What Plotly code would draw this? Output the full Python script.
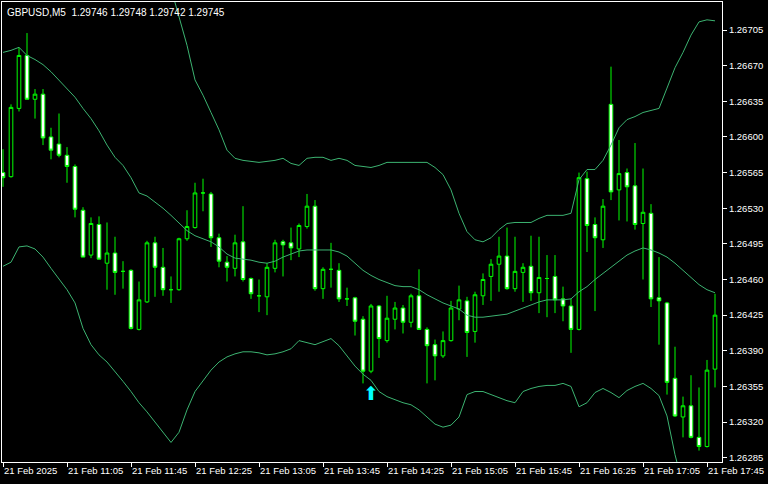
""" GBPUSD M5 candles with Bollinger Bands, MT4 style
"""

import plotly.graph_objects as go

symbol_text = "GBPUSD,M5  1.29746 1.29748 1.29742 1.29745"

# one entry per 5-minute bar, 10:25 .. 17:50
opens = [1.26565, 1.26561, 1.26628, 1.26680, 1.26637, 1.26642, 1.26600, 1.26593, 1.26582, 1.26571,
         1.26528, 1.26484, 1.26514, 1.26476, 1.26486, 1.26468, 1.26469, 1.26411, 1.26438, 1.26496,
         1.26472, 1.26450, 1.26450, 1.26500, 1.26511, 1.26545, 1.26544, 1.26501, 1.26477, 1.26471,
         1.26497, 1.26461, 1.26444, 1.26443, 1.26471, 1.26497, 1.26496, 1.26490, 1.26512, 1.26532,
         1.26451, 1.26470, 1.26469, 1.26441, 1.26442, 1.26421, 1.26370, 1.26434, 1.26400, 1.26421,
         1.26432, 1.26418, 1.26444, 1.26411, 1.26396, 1.26385, 1.26400, 1.26431, 1.26439, 1.26409,
         1.26444, 1.26463, 1.26475, 1.26483, 1.26451, 1.26467, 1.26473, 1.26447, 1.26461, 1.26463,
         1.26441, 1.26434, 1.26411, 1.26559, 1.26514, 1.26499, 1.26632, 1.26548, 1.26565, 1.26552,
         1.26515, 1.26525, 1.26442, 1.26437, 1.26363, 1.26325, 1.26336, 1.26305, 1.26296, 1.26372]
highs = [1.26588, 1.26632, 1.26688, 1.26702, 1.26647, 1.26647, 1.26609, 1.26623, 1.26590, 1.26573,
         1.26531, 1.26521, 1.26522, 1.26516, 1.26502, 1.26478, 1.26470, 1.26458, 1.26498, 1.26502,
         1.26491, 1.26463, 1.26501, 1.26528, 1.26555, 1.26559, 1.26546, 1.26505, 1.26483, 1.26504,
         1.26532, 1.26462, 1.26460, 1.26476, 1.26499, 1.26499, 1.26511, 1.26515, 1.26544, 1.26538,
         1.26472, 1.26496, 1.26476, 1.26452, 1.26443, 1.26424, 1.26436, 1.26435, 1.26444, 1.26438,
         1.26435, 1.26446, 1.26470, 1.26413, 1.26401, 1.26409, 1.26439, 1.26454, 1.26443, 1.26448,
         1.26466, 1.26480, 1.26502, 1.26511, 1.26502, 1.26476, 1.26503, 1.26502, 1.26484, 1.26484,
         1.26453, 1.26441, 1.26565, 1.26566, 1.26521, 1.26539, 1.26669, 1.26597, 1.26569, 1.26594,
         1.26569, 1.26534, 1.26482, 1.26438, 1.26394, 1.26345, 1.26366, 1.26354, 1.26381, 1.26446]
lows = [1.26551, 1.26560, 1.26625, 1.26637, 1.26618, 1.26592, 1.26578, 1.26580, 1.26555, 1.26521,
        1.26482, 1.26481, 1.26480, 1.26450, 1.26445, 1.26451, 1.26411, 1.26410, 1.26437, 1.26443,
        1.26444, 1.26437, 1.26449, 1.26498, 1.26510, 1.26527, 1.26492, 1.26472, 1.26458, 1.26463,
        1.26458, 1.26441, 1.26428, 1.26425, 1.26467, 1.26463, 1.26479, 1.26482, 1.26510, 1.26449,
        1.26441, 1.26452, 1.26438, 1.26434, 1.26405, 1.26358, 1.26368, 1.26383, 1.26398, 1.26411,
        1.26407, 1.26413, 1.26411, 1.26358, 1.26361, 1.26383, 1.26399, 1.26420, 1.26384, 1.26398,
        1.26435, 1.26439, 1.26448, 1.26450, 1.26448, 1.26438, 1.26439, 1.26427, 1.26423, 1.26427,
        1.26419, 1.26388, 1.26410, 1.26487, 1.26429, 1.26491, 1.26538, 1.26518, 1.26517, 1.26509,
        1.26460, 1.26433, 1.26396, 1.26347, 1.26325, 1.26305, 1.26304, 1.26292, 1.26295, 1.26354]
closes = [1.26560, 1.26629, 1.26680, 1.26637, 1.26642, 1.26599, 1.26587, 1.26582, 1.26571, 1.26529,
          1.26482, 1.26515, 1.26480, 1.26486, 1.26467, 1.26468, 1.26412, 1.26440, 1.26496, 1.26472,
          1.26450, 1.26450, 1.26500, 1.26512, 1.26545, 1.26545, 1.26501, 1.26478, 1.26472, 1.26496,
          1.26460, 1.26446, 1.26444, 1.26472, 1.26496, 1.26494, 1.26491, 1.26513, 1.26532, 1.26451,
          1.26470, 1.26470, 1.26441, 1.26441, 1.26419, 1.26370, 1.26434, 1.26402, 1.26422, 1.26432,
          1.26418, 1.26444, 1.26411, 1.26395, 1.26385, 1.26400, 1.26432, 1.26440, 1.26408, 1.26445,
          1.26460, 1.26475, 1.26483, 1.26451, 1.26468, 1.26472, 1.26447, 1.26462, 1.26461, 1.26440,
          1.26434, 1.26411, 1.26560, 1.26513, 1.26501, 1.26532, 1.26546, 1.26564, 1.26551, 1.26514,
          1.26526, 1.26441, 1.26439, 1.26359, 1.26326, 1.26336, 1.26305, 1.26296, 1.26371, 1.26425]

bb_upper = [1.26892, 1.26892, 1.26883, 1.26868, 1.26861, 1.26859, 1.26856, 1.26851, 1.26846, 1.26841,
            1.26844, 1.26840, 1.26826, 1.26805, 1.26791, 1.26786, 1.26770, 1.26751, 1.26754, 1.26752,
            1.26751, 1.26746, 1.26718, 1.26690, 1.26656, 1.26641, 1.26624, 1.26607, 1.26587, 1.26579,
            1.26577, 1.26576, 1.26575, 1.26576, 1.26577, 1.26579, 1.26574, 1.26572, 1.26579, 1.26580,
            1.26580, 1.26577, 1.26579, 1.26577, 1.26572, 1.26571, 1.26570, 1.26572, 1.26575, 1.26575,
            1.26575, 1.26575, 1.26575, 1.26575, 1.26570, 1.26563, 1.26548, 1.26525, 1.26507, 1.26499,
            1.26497, 1.26501, 1.26509, 1.26515, 1.26516, 1.26516, 1.26516, 1.26520, 1.26523, 1.26523,
            1.26523, 1.26525, 1.26558, 1.26568, 1.26568, 1.26577, 1.26592, 1.26609, 1.26617, 1.26620,
            1.26624, 1.26626, 1.26628, 1.26648, 1.26668, 1.26683, 1.26700, 1.26713, 1.26715, 1.26714]
bb_middle = [1.26683, 1.26685, 1.26688, 1.26680, 1.26676, 1.26671, 1.26664, 1.26656, 1.26648, 1.26639,
             1.26628, 1.26618, 1.26606, 1.26592, 1.26580, 1.26572, 1.26560, 1.26545, 1.26542, 1.26536,
             1.26530, 1.26523, 1.26515, 1.26508, 1.26503, 1.26500, 1.26497, 1.26492, 1.26485, 1.26481,
             1.26480, 1.26479, 1.26477, 1.26476, 1.26478, 1.26482, 1.26485, 1.26488, 1.26489, 1.26489,
             1.26489, 1.26489, 1.26487, 1.26483, 1.26476, 1.26469, 1.26464, 1.26460, 1.26457, 1.26454,
             1.26453, 1.26453, 1.26450, 1.26445, 1.26441, 1.26437, 1.26434, 1.26431, 1.26425, 1.26423,
             1.26423, 1.26424, 1.26425, 1.26426, 1.26429, 1.26432, 1.26435, 1.26438, 1.26440, 1.26440,
             1.26440, 1.26441, 1.26448, 1.26453, 1.26460, 1.26466, 1.26472, 1.26478, 1.26484, 1.26488,
             1.26491, 1.26489, 1.26486, 1.26482, 1.26476, 1.26469, 1.26462, 1.26455, 1.26450, 1.26447]
bb_lower = [1.26473, 1.26477, 1.26492, 1.26493, 1.26490, 1.26482, 1.26471, 1.26460, 1.26450, 1.26437,
            1.26412, 1.26396, 1.26386, 1.26379, 1.26370, 1.26360, 1.26350, 1.26339, 1.26330, 1.26320,
            1.26309, 1.26300, 1.26310, 1.26332, 1.26350, 1.26360, 1.26371, 1.26379, 1.26384, 1.26387,
            1.26389, 1.26389, 1.26388, 1.26386, 1.26387, 1.26389, 1.26392, 1.26400, 1.26398, 1.26396,
            1.26399, 1.26402, 1.26395, 1.26385, 1.26375, 1.26367, 1.26361, 1.26350, 1.26345, 1.26342,
            1.26339, 1.26337, 1.26332, 1.26325, 1.26318, 1.26315, 1.26317, 1.26325, 1.26347, 1.26350,
            1.26350, 1.26347, 1.26344, 1.26341, 1.26339, 1.26350, 1.26353, 1.26355, 1.26356, 1.26356,
            1.26358, 1.26355, 1.26335, 1.26339, 1.26349, 1.26353, 1.26349, 1.26344, 1.26351, 1.26355,
            1.26358, 1.26353, 1.26346, 1.26326, 1.26288, 1.26258, 1.26228, 1.26197, 1.26185, 1.26180]

# buy arrow below bar 46
arrow_bar = 46
arrow_price = 1.26346

time_labels = ["21 Feb 2025", "21 Feb 11:05", "21 Feb 11:45", "21 Feb 12:25", "21 Feb 13:05",
               "21 Feb 13:45", "21 Feb 14:25", "21 Feb 15:05", "21 Feb 15:45", "21 Feb 16:25",
               "21 Feb 17:05", "21 Feb 17:45"]
price_ticks = [1.26285, 1.26320, 1.26355, 1.26390, 1.26425, 1.26460, 1.26495, 1.26530,
               1.26565, 1.26600, 1.26635, 1.26670, 1.26705]

bars = list(range(len(opens)))
band_color = "#3CB371"
candle_color = "#00FF00"
font = "Liberation Sans"

fig = go.Figure()
for band in (bb_upper, bb_middle, bb_lower):
    fig.add_trace(go.Scatter(x=bars, y=band, mode="lines", line=dict(color=band_color, width=1),
                             hoverinfo="skip"))
fig.add_trace(go.Candlestick(x=bars, open=opens, high=highs, low=lows, close=closes,
                             increasing=dict(line=dict(color=candle_color, width=1), fillcolor="black"),
                             decreasing=dict(line=dict(color=candle_color, width=1), fillcolor="white"),
                             whiskerwidth=0))
fig.add_trace(go.Scatter(x=[arrow_bar], y=[arrow_price], mode="text", text=["⬆"],
                         textfont=dict(color="#00FFFF", size=19, family="DejaVu Sans"),
                         textposition="middle center"))

fig.update_xaxes(range=[-0.125, 89.875], tickvals=bars[::8], ticktext=time_labels,
                 tickangle=0, automargin=False,
                 ticks="outside", ticklen=4, tickcolor="white", ticklabelposition="outside right",
                 showline=True, mirror=True, linecolor="white", linewidth=1,
                 showgrid=False, zeroline=False, rangeslider_visible=False,
                 tickfont=dict(color="white", size=9.5, family=font))
fig.update_yaxes(range=[1.262808, 1.267325], side="right", tickvals=price_ticks, tickformat=".5f",
                 automargin=False,
                 ticks="outside", ticklen=4, tickcolor="white",
                 showline=True, mirror=True, linecolor="white", linewidth=1,
                 showgrid=False, zeroline=False,
                 tickfont=dict(color="white", size=9.5, family=font))
fig.add_annotation(xref="paper", yref="paper", x=0, y=1, xshift=3, yshift=-3,
                   xanchor="left", yanchor="top", text=symbol_text, showarrow=False,
                   font=dict(color="white", size=10, family=font))
fig.update_layout(width=768, height=484, showlegend=False, boxgap=0.35,
                  paper_bgcolor="black", plot_bgcolor="black",
                  margin={"l": 2, "r": 46, "t": 2, "b": 22})

# the page body has a default 8px margin; drop it so the chart sits at 0,0
fig.write_html("out.html", config={"displayModeBar": False},
               post_script="document.body.style.margin = '0';")
